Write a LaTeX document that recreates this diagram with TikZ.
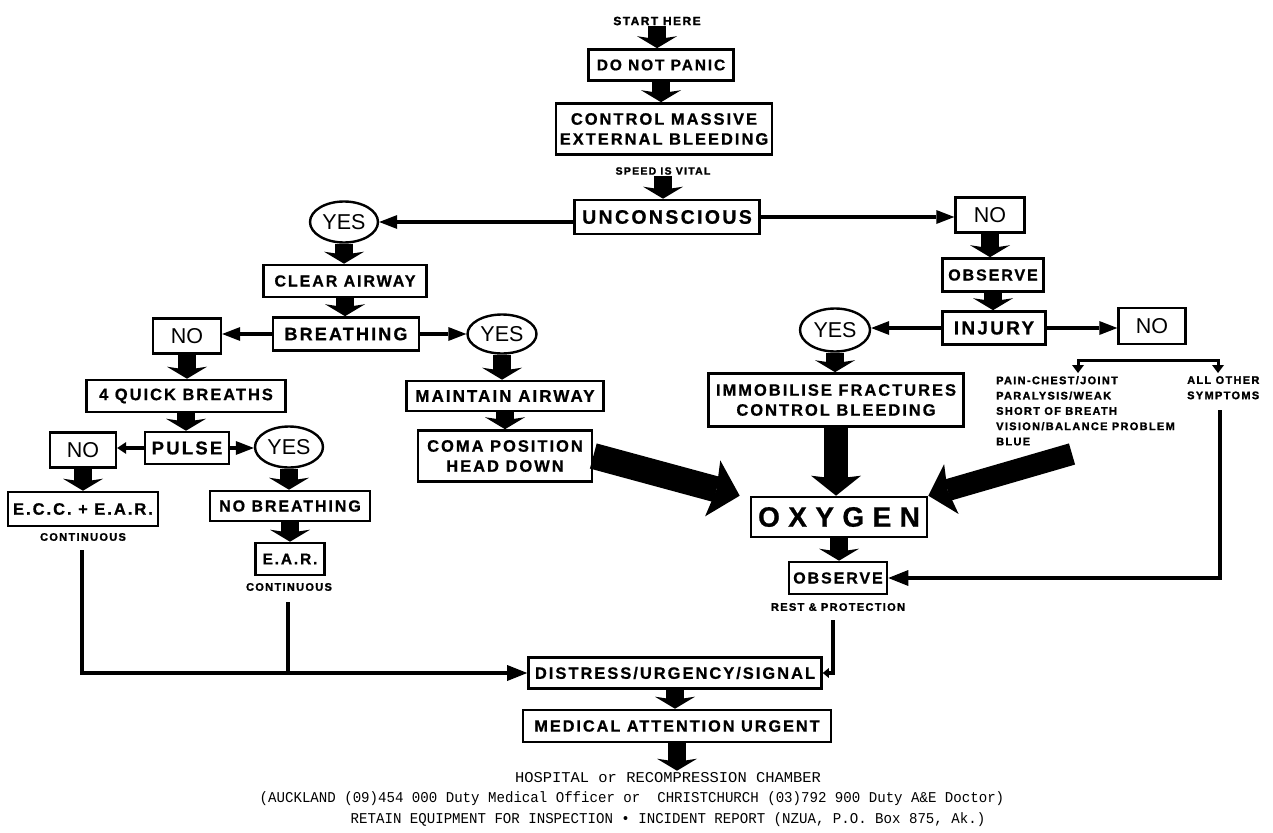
\documentclass[tikz,border=0pt]{standalone}
\usepackage{fontspec}
\usepackage{graphicx}
\usetikzlibrary{arrows.meta,shapes.geometric,calc}
\setmainfont{Liberation Sans}
\newfontfamily\lblfont{Liberation Sans}[LetterSpace=12, FakeBold=0.8]
\newfontfamily\smallfont{Liberation Sans}[LetterSpace=12, FakeBold=1.6]
\newfontfamily\oxyfont{Liberation Sans}[LetterSpace=30, FakeBold=0.8]
\newfontfamily\footfont{Liberation Mono}
\newcommand\bxf[2]{\lblfont\bfseries\fontsize{#1}{#2}\selectfont}
\newcommand\smf[2]{\smallfont\bfseries\fontsize{#1}{#2}\selectfont}

\tikzset{
  box/.style={draw, line width=2.6pt, inner sep=0pt, align=center, font=\bxf{16.5}{20}},
  yn/.style={draw, line width=2.4pt, inner sep=0pt, font=\fontsize{21.5}{24}\selectfont},
  oval/.style={yn, ellipse},
  note/.style={inner sep=1pt, font=\smf{11}{15.3}},
  foot/.style={inner sep=2pt, font=\footfont\fontsize{15}{18}\selectfont},
  blk/.style={line width=18pt, -{Stealth[width=40pt,length=12pt,inset=3pt,line width=0pt]}},
  arr/.style={line width=3.5pt, -{Triangle[length=18pt,width=14pt,line width=0pt]}},
  arrs/.style={line width=3.5pt, -{Triangle[length=9pt,width=12pt,line width=0pt]}},
  feed/.style={line width=4pt, -{Triangle[length=20pt,width=16pt,line width=0pt]}},
  joinline/.style={line width=4pt},
}

\begin{document}
\begin{tikzpicture}[x=1pt,y=1pt]
\useasboundingbox (0,0) rectangle (1273,-832);

% --- top spine ---
\node[note, font=\smf{12}{14}] (start) at (657,-21) {START HERE};
\node[box, minimum width=145pt, minimum height=31pt, font=\bxf{15.5}{18}] (dnp) at (661,-65) {DO NOT PANIC};
\node[box, minimum width=216pt, minimum height=51pt] (cmeb) at (664,-129) {CONTROL MASSIVE\\EXTERNAL BLEEDING};
\node[note, font=\smf{10.5}{13}] (speed) at (663,-171) {SPEED IS VITAL};
\node[box, minimum width=185pt, minimum height=34pt, font=\bxf{19.5}{22}] (uncon) at (667,-217) {UNCONSCIOUS};

% --- unconscious branch ---
\node[oval, minimum width=68pt, minimum height=41pt] (yesL) at (344,-222) {YES};
\node[box, minimum width=163pt, minimum height=32pt, font=\bxf{16}{19}] (clear) at (345,-281) {CLEAR AIRWAY};
\node[box, minimum width=146pt, minimum height=33pt, font=\bxf{18}{21}] (breath) at (346,-334) {BREATHING};
\node[yn, minimum width=68pt, minimum height=35pt] (noL) at (187,-336) {NO};
\node[oval, minimum width=69pt, minimum height=39pt] (yesM) at (502,-334) {YES};
\node[box, minimum width=199pt, minimum height=32pt] (qb) at (186,-396) {4 QUICK BREATHS};
\node[box, minimum width=84pt, minimum height=32pt, font=\bxf{18.5}{21}] (pulse) at (187,-448) {PULSE};
\node[yn, minimum width=66pt, minimum height=35pt] (no2) at (83,-450) {NO};
\node[oval, minimum width=68pt, minimum height=41pt] (yes2) at (289,-447) {YES};
\node[box, minimum width=150pt, minimum height=34pt] (ecc) at (83,-509) {E.C.C. + E.A.R.};
\node[note] (cont1) at (83,-537) {CONTINUOUS};
\node[box, minimum width=160pt, minimum height=30pt, font=\bxf{16}{19}] (nobr) at (290,-506) {NO BREATHING};
\node[box, minimum width=69pt, minimum height=32pt, font=\bxf{15.5}{18}] (ear) at (290,-559) {E.A.R.};
\node[note] (cont2) at (289,-587) {CONTINUOUS};
\node[box, minimum width=197pt, minimum height=30pt, font=\bxf{17}{20}] (maint) at (505,-396) {MAINTAIN AIRWAY};
\node[box, minimum width=174pt, minimum height=51pt] (coma) at (505,-456) {COMA POSITION\\HEAD DOWN};

% --- conscious branch ---
\node[yn, minimum width=69pt, minimum height=35pt] (noR) at (990,-215) {NO};
\node[box, minimum width=101pt, minimum height=33pt, font=\bxf{16}{19}] (obs1) at (993,-275) {OBSERVE};
\node[box, minimum width=103pt, minimum height=33pt, font=\bxf{19}{22}] (inj) at (994,-328) {INJURY};
\node[oval, minimum width=70pt, minimum height=43pt] (yesR) at (835,-330) {YES};
\node[yn, minimum width=67pt, minimum height=36pt] (noRR) at (1152,-326) {NO};
\node[box, minimum width=255pt, minimum height=53pt] (immob) at (836,-400) {IMMOBILISE FRACTURES\\CONTROL BLEEDING};
\node[note, anchor=north west, align=left] (symp) at (995,-375)
  {PAIN-CHEST/JOINT\\PARALYSIS/WEAK\\SHORT OF BREATH\\VISION/BALANCE PROBLEM\\BLUE};
\node[note, anchor=north west, align=left] (aos) at (1186,-375) {ALL OTHER\\SYMPTOMS};

% --- common path ---
\node[box, minimum width=176pt, minimum height=40pt, font=\oxyfont\bfseries\fontsize{28}{30}\selectfont] (oxy) at (839,-517) {OXYGEN};
\node[box, minimum width=98pt, minimum height=32pt, font=\bxf{16}{19}] (obs2) at (838,-578) {OBSERVE};
\node[note] (rest) at (838,-607) {REST \& PROTECTION};
\node[box, minimum width=293pt, minimum height=31pt] (dist) at (675,-673) {DISTRESS/URGENCY/SIGNAL};
\node[box, minimum width=308pt, minimum height=32pt, font=\bxf{16.3}{19}] (med) at (677,-726) {MEDICAL ATTENTION URGENT};

% --- footer ---
\node[foot] (hosp) at (668,-778) {\scalebox{1.03}[1]{HOSPITAL or RECOMPRESSION CHAMBER}};
\node[foot] (phone) at (632,-799) {\scalebox{0.94}[1]{(AUCKLAND (09)454 000 Duty Medical Officer or\ \ CHRISTCHURCH (03)792 900 Duty A\&E Doctor)}};
\node[foot] (retain) at (668,-820) {\scalebox{0.94}[1]{RETAIN EQUIPMENT FOR INSPECTION \textbullet{} INCIDENT REPORT (NZUA, P.O. Box 875, Ak.)}};

% --- free ends of connectors ---
\coordinate (brL) at (1078,-373);
\coordinate (brR) at (1218,-373);
\coordinate (aosdrop) at (1220,-410);
\coordinate (sympt) at (1072,-454);
\coordinate (eccdrop) at (82,-550);
\coordinate (eardrop) at (288,-602);
\coordinate (obsdrop) at (833,-620);

% --- chunky step arrows (kept vertical under their source) ---
\draw[blk] (start.south) -- (start.south |- dnp.north);
\draw[blk] (dnp.south) -- (dnp.south |- cmeb.north);
\draw[blk] (speed.south) -- (speed.south |- uncon.north);
\draw[blk] (yesL.south) -- (yesL.south |- clear.north);
\draw[blk] (clear.south) -- (clear.south |- breath.north);
\draw[blk] (noL.south) -- (noL.south |- qb.north);
\draw[blk] (qb.south) -- (qb.south |- pulse.north);
\draw[blk] (no2.south) -- (no2.south |- ecc.north);
\draw[blk] (yes2.south) -- (yes2.south |- nobr.north);
\draw[blk] (nobr.south) -- (nobr.south |- ear.north);
\draw[blk] (yesM.south) -- (yesM.south |- maint.north);
\draw[blk] (maint.south) -- (maint.south |- coma.north);
\draw[blk] (noR.south) -- (noR.south |- obs1.north);
\draw[blk] (obs1.south) -- (obs1.south |- inj.north);
\draw[blk] (yesR.south) -- (yesR.south |- immob.north);
\draw[blk] (oxy.south) -- (oxy.south |- obs2.north);
\draw[blk] (dist.south) -- (dist.south |- med.north);
\draw[blk] (med.south) -- (med.south |- hosp.north);

% --- heavy arrows into OXYGEN ---
\draw[line width=26pt, -{Stealth[width=58pt,length=28pt,inset=4pt,line width=0pt]}]
  (coma.east) -- ([xshift=-10pt]oxy.north west);
\draw[line width=24pt, -{Stealth[width=50pt,length=20pt,inset=3pt,line width=0pt]}]
  (immob.south) -- (immob.south |- oxy.north);
\draw[line width=22pt, -{Stealth[width=52pt,length=24pt,inset=4pt,line width=0pt]}]
  (sympt) -- (oxy.north east);

% --- decision arrows ---
\draw[arr] (uncon.west |- yesL.east) -- (yesL.east);
\draw[arr] (uncon.east) -- (noR.west |- uncon.east);
\draw[arr] (breath.west) -- (noL.east |- breath.west);
\draw[arr] (breath.east) -- (yesM.west |- breath.east);
\draw[arrs] (pulse.west) -- (no2.east |- pulse.west);
\draw[arr] (pulse.east) -- (yes2.west |- pulse.east);
\draw[arr] (inj.west) -- (yesR.east |- inj.west);
\draw[arr] (inj.east) -- (noRR.west |- inj.east);

% --- symptom split ---
\draw[line width=3pt, {Triangle[length=8pt,width=12pt,line width=0pt]}-{Triangle[length=8pt,width=12pt,line width=0pt]}]
  (brL) -- ++(0,13) -| (brR);

% --- return lines ---
\draw[feed] (aosdrop) |- (obs2.east);
\draw[feed] (eccdrop) |- (dist.west);
\draw[joinline] (eardrop) -- (eardrop |- dist.west);
\draw[line width=4pt, -{Triangle[length=6pt,width=10pt,line width=0pt]}] (obsdrop) |- (dist.east);
\end{tikzpicture}
\end{document}
